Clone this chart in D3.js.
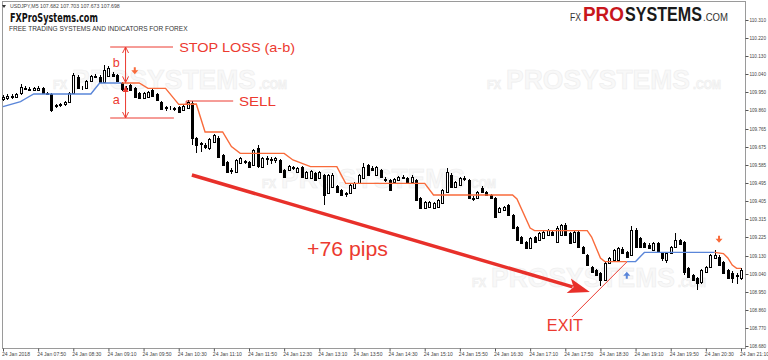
<!DOCTYPE html>
<html>
<head>
<meta charset="utf-8">
<script src="https://cdn.jsdelivr.net/npm/d3@7"></script>
<style>
  html, body { margin: 0; padding: 0; background: #fff; overflow: hidden; }
  svg { display: block; }
</style>
</head>
<body>
<svg id="chart" width="768" height="360"></svg>
<script>
// USDJPY M5, 24 Jan 2018 07:10 .. 21:10 -- [open, high, low, close]
const candles = [
  [109.915,109.935,109.905,109.925],[109.920,109.940,109.910,109.930],[109.925,109.940,109.915,109.930],
  [109.925,109.945,109.920,109.940],[109.945,109.990,109.935,109.975],[109.970,109.980,109.960,109.965],
  [109.965,109.975,109.955,109.960],[109.960,109.975,109.955,109.970],[109.962,109.978,109.955,109.972],
  [109.970,109.975,109.940,109.945],[109.945,109.950,109.935,109.942],[109.940,109.945,109.850,109.860],
  [109.880,109.890,109.870,109.885],[109.885,109.895,109.875,109.890],[109.890,109.905,109.880,109.900],
  [109.900,109.950,109.895,109.945],[109.945,110.045,109.940,110.035],[110.025,110.035,109.965,109.970],
  [109.972,109.980,109.960,109.968],[109.970,110.010,109.965,110.005],[110.005,110.035,110.000,110.030],
  [110.030,110.040,110.020,110.025],[110.025,110.035,109.995,110.000],[110.000,110.085,109.995,110.060],
  [110.030,110.080,110.025,110.070],[110.040,110.050,110.025,110.030],[110.035,110.040,110.000,110.005],
  [109.995,110.000,109.955,109.965],[109.965,109.980,109.955,109.970],[109.985,109.990,109.955,109.960],
  [109.970,109.975,109.920,109.925],[109.945,109.950,109.915,109.920],[109.920,109.950,109.915,109.945],
  [109.925,109.955,109.920,109.950],[109.960,109.965,109.925,109.930],[109.940,109.945,109.905,109.910],
  [109.900,109.905,109.860,109.865],[109.870,109.880,109.855,109.875],[109.872,109.880,109.860,109.868],
  [109.865,109.875,109.855,109.870],[109.875,109.880,109.845,109.850],[109.860,109.885,109.855,109.880],
  [109.870,109.910,109.865,109.900],[109.895,109.905,109.685,109.720],[109.720,109.725,109.645,109.685],
  [109.690,109.700,109.650,109.695],[109.685,109.695,109.665,109.675],[109.670,109.720,109.660,109.715],
  [109.700,109.740,109.695,109.735],[109.720,109.730,109.620,109.625],[109.635,109.640,109.580,109.585],
  [109.600,109.605,109.545,109.550],[109.560,109.570,109.540,109.555],[109.550,109.615,109.545,109.610],
  [109.595,109.625,109.590,109.620],[109.600,109.610,109.590,109.605],[109.600,109.605,109.570,109.575],
  [109.585,109.665,109.580,109.660],[109.670,109.685,109.570,109.580],[109.575,109.625,109.570,109.620],
  [109.620,109.630,109.585,109.615],[109.615,109.625,109.590,109.610],[109.610,109.625,109.595,109.618],
  [109.610,109.615,109.545,109.550],[109.560,109.565,109.520,109.525],[109.560,109.585,109.555,109.580],
  [109.570,109.580,109.560,109.575],[109.550,109.575,109.545,109.570],[109.575,109.580,109.520,109.525],
  [109.520,109.555,109.515,109.550],[109.520,109.560,109.515,109.555],[109.545,109.550,109.505,109.510],
  [109.520,109.555,109.515,109.550],[109.535,109.540,109.385,109.435],[109.445,109.540,109.440,109.535],
  [109.475,109.545,109.470,109.535],[109.480,109.485,109.445,109.450],[109.460,109.465,109.430,109.435],
  [109.440,109.450,109.425,109.445],[109.445,109.490,109.440,109.485],[109.470,109.500,109.465,109.495],
  [109.495,109.540,109.490,109.535],[109.520,109.595,109.515,109.575],[109.585,109.590,109.530,109.535],
  [109.570,109.580,109.555,109.560],[109.535,109.580,109.530,109.575],[109.560,109.565,109.520,109.525],
  [109.515,109.525,109.500,109.510],[109.510,109.515,109.455,109.460],[109.500,109.520,109.495,109.515],
  [109.510,109.530,109.505,109.525],[109.522,109.535,109.515,109.525],[109.520,109.525,109.490,109.495],
  [109.500,109.535,109.495,109.525],[109.510,109.515,109.405,109.410],[109.420,109.425,109.365,109.370],
  [109.370,109.405,109.365,109.400],[109.375,109.405,109.370,109.400],[109.370,109.400,109.365,109.395],
  [109.375,109.415,109.370,109.410],[109.395,109.465,109.390,109.460],[109.450,109.570,109.445,109.550],
  [109.535,109.545,109.470,109.475],[109.475,109.505,109.470,109.500],[109.485,109.525,109.480,109.520],
  [109.518,109.530,109.505,109.515],[109.510,109.515,109.415,109.420],[109.420,109.430,109.405,109.415],
  [109.420,109.455,109.415,109.450],[109.470,109.478,109.445,109.450],[109.450,109.455,109.430,109.435],
  [109.435,109.440,109.415,109.420],[109.420,109.425,109.320,109.325],[109.350,109.375,109.345,109.370],
  [109.360,109.380,109.355,109.375],[109.385,109.390,109.330,109.335],[109.335,109.340,109.265,109.270],
  [109.275,109.280,109.205,109.210],[109.225,109.230,109.190,109.195],[109.200,109.205,109.165,109.170],
  [109.170,109.225,109.165,109.220],[109.225,109.230,109.195,109.200],[109.210,109.250,109.205,109.245],
  [109.220,109.255,109.215,109.250],[109.235,109.265,109.230,109.260],[109.250,109.260,109.230,109.235],
  [109.200,109.280,109.195,109.270],[109.235,109.290,109.230,109.285],[109.285,109.295,109.230,109.235],
  [109.245,109.250,109.190,109.195],[109.200,109.260,109.195,109.250],[109.250,109.255,109.170,109.175],
  [109.175,109.180,109.140,109.145],[109.135,109.140,109.080,109.085],[109.075,109.080,109.045,109.050],
  [109.060,109.065,109.030,109.035],[109.045,109.050,108.980,109.010],[109.010,109.100,109.005,109.095],
  [109.095,109.125,109.090,109.120],[109.110,109.165,109.105,109.160],[109.110,109.175,109.100,109.170],
  [109.165,109.175,109.140,109.145],[109.150,109.155,109.120,109.125],[109.135,109.280,109.130,109.260],
  [109.260,109.270,109.170,109.175],[109.220,109.225,109.170,109.175],[109.195,109.200,109.170,109.175],
  [109.185,109.195,109.165,109.170],[109.160,109.200,109.155,109.195],[109.195,109.200,109.145,109.150],
  [109.145,109.150,109.105,109.120],[109.110,109.150,109.095,109.145],[109.145,109.180,109.140,109.175],
  [109.175,109.245,109.170,109.210],[109.210,109.215,109.185,109.190],[109.200,109.205,109.035,109.050],
  [109.070,109.075,109.020,109.025],[109.035,109.040,109.005,109.010],[109.020,109.025,108.960,108.995],
  [109.000,109.065,108.990,109.060],[109.050,109.080,109.045,109.075],[109.075,109.140,109.070,109.135],
  [109.120,109.160,109.115,109.135],[109.125,109.135,109.080,109.085],[109.100,109.105,109.040,109.045],
  [109.060,109.065,109.015,109.020],[109.045,109.055,108.995,109.020],[109.030,109.045,108.990,109.035],
  [109.020,109.070,109.010,109.060]
];

// trailing stop line, [bar, price] knots
const stopUpA = [[0,109.877],[4,109.902],[5,109.915],[7,109.940],[20,109.940],[22,109.995],[27,109.995]];
const stopDownA = [[27,109.995],[31,109.995],[33,109.968],[37,109.968],[40,109.888],[44,109.890],[46,109.750],
  [50,109.750],[52,109.677],[54,109.643],[64,109.643],[66,109.610],[70,109.577],[76,109.577],[78,109.493],
  [96,109.493],[98,109.435],[116,109.435],[117,109.415],[120,109.270],[121,109.257],[133,109.257],
  [134,109.225],[136,109.120],[137,109.102],[142,109.102]];
const stopUpB = [[142,109.102],[144,109.102],[146,109.148],[162,109.148]];
const stopDownB = [[162,109.148],[164,109.142],[165,109.120],[166,109.085],[167,109.068],[168,109.068]];

// signal arrows [bar, price of tip]
const sellSignals = [[30,110.039],[163,109.196]];
const buySignals = [[142,109.051]];

const priceTicks = [110.310,110.220,110.130,110.040,109.950,109.860,109.765,109.675,109.585,109.495,
  109.405,109.315,109.225,109.130,109.040,108.950,108.860,108.770,108.680];
const timeLabels = ["24 Jan 2018","24 Jan 07:50","24 Jan 08:30","24 Jan 09:10","24 Jan 09:50","24 Jan 10:30",
  "24 Jan 11:10","24 Jan 11:50","24 Jan 12:30","24 Jan 13:10","24 Jan 13:50","24 Jan 14:30","24 Jan 15:10",
  "24 Jan 15:50","24 Jan 16:30","24 Jan 17:10","24 Jan 17:50","24 Jan 18:30","24 Jan 19:10","24 Jan 19:50",
  "24 Jan 20:30","24 Jan 21:10"];
const barsPerLabel = 8;

const svg = d3.select("#chart");
const x = d3.scaleLinear().domain([0, 168]).range([3, 741]);
const y = d3.scaleLinear().domain([108.680, 110.310]).range([346, 20]);
const RED = "#ec3a30";
const FONT = "'Liberation Sans', Arial, sans-serif";

// squeeze a text horizontally to a given width
function fit(sel, len) {
  const w = sel.node().getComputedTextLength();
  const x0 = +sel.attr("x"), y0 = +sel.attr("y");
  sel.attr("x", 0).attr("y", 0)
    .attr("transform", `translate(${x0},${y0}) scale(${len / w},1)`);
  return sel;
}

// watermarks
const marks = [[53, 89], [487, 89], [262, 188], [472, 287]];
marks.forEach(([mx, my]) => {
  const g = svg.append("g").attr("fill", "#f8f8f8").attr("stroke", "#ededed").attr("stroke-width", 0.6)
    .style("font-family", FONT).style("font-weight", "bold");
  fit(g.append("text").attr("x", mx).attr("y", my).style("font-size", "12px").text("FX"), 14);
  fit(g.append("text").attr("x", mx + 19).attr("y", my).style("font-size", "28px").text("PROSYSTEMS"), 184);
  fit(g.append("text").attr("x", mx + 206).attr("y", my).style("font-size", "12px").text(".COM"), 28);
});

// frame
svg.append("rect").attr("x", 2.5).attr("y", 1.5).attr("width", 743).attr("height", 347)
  .attr("fill", "none").attr("stroke", "#9a9a9a");

// axes
const yAxis = d3.axisRight(y).tickValues(priceTicks).tickSize(3).tickPadding(1)
  .tickFormat(d3.format(".3f"));
const gy = svg.append("g").attr("transform", "translate(745.5,0)").call(yAxis);
gy.select(".domain").remove();
gy.selectAll("line").attr("stroke", "#555");
gy.selectAll("text").style("font-family", FONT).style("font-size", "5px").attr("fill", "#444")
  .attr("textLength", 16.5).attr("lengthAdjust", "spacingAndGlyphs");

const xAxis = d3.axisBottom(x).tickValues(timeLabels.map((d, i) => i * barsPerLabel))
  .tickSize(3).tickPadding(1).tickFormat((d, i) => timeLabels[i]);
const gx = svg.append("g").attr("transform", "translate(0,348.5)").call(xAxis);
gx.select(".domain").remove();
gx.selectAll("line").attr("stroke", "#555");
gx.selectAll("text").style("font-family", FONT).style("font-size", "5.5px").attr("fill", "#444")
  .attr("text-anchor", "start").attr("dx", -1.5)
  .attr("textLength", (d, i) => i === 0 ? 28 : 29).attr("lengthAdjust", "spacingAndGlyphs");

// candles
const cg = svg.append("g").attr("shape-rendering", "crispEdges");
candles.forEach(([o, h, l, c], i) => {
  const cx = Math.round(x(i));
  const up = c >= o;
  cg.append("line").attr("x1", cx + 0.5).attr("x2", cx + 0.5)
    .attr("y1", Math.round(y(h))).attr("y2", Math.round(y(l)))
    .attr("stroke", "#000");
  const top = Math.round(y(Math.max(o, c))), bot = Math.round(y(Math.min(o, c)));
  cg.append("rect").attr("x", cx - 0.5).attr("y", top + 0.5)
    .attr("width", 2).attr("height", Math.max(0, bot - top))
    .attr("fill", up ? "#fff" : "#000").attr("stroke", "#000");
});

// stop line
const line = d3.line().x(d => x(d[0])).y(d => y(d[1]));
[stopUpA, stopUpB].forEach(s => svg.append("path").attr("d", line(s))
  .attr("fill", "none").attr("stroke", "#5a86d9").attr("stroke-width", 1.4));
[stopDownA, stopDownB].forEach(s => svg.append("path").attr("d", line(s))
  .attr("fill", "none").attr("stroke", "#f96b3b").attr("stroke-width", 1.4));

// signal arrows
sellSignals.forEach(([b, p]) => {
  const ax = x(b), ay = y(p);
  svg.append("path").attr("fill", "#f96b3b")
    .attr("d", `M${ax},${ay} L${ax - 3.5},${ay - 4} L${ax - 1},${ay - 4} L${ax - 1},${ay - 7} L${ax + 1},${ay - 7} L${ax + 1},${ay - 4} L${ax + 3.5},${ay - 4}Z`);
});
buySignals.forEach(([b, p]) => {
  const ax = x(b), ay = y(p);
  svg.append("path").attr("fill", "#5a86d9")
    .attr("d", `M${ax},${ay} L${ax - 3.5},${ay + 4} L${ax - 1},${ay + 4} L${ax - 1},${ay + 7} L${ax + 1},${ay + 7} L${ax + 1},${ay + 4} L${ax + 3.5},${ay + 4}Z`);
});

// annotations
const ann = svg.append("g").attr("stroke", RED).attr("fill", "none").attr("stroke-width", 1);
ann.append("line").attr("x1", x(24.4)).attr("x2", x(38.7)).attr("y1", y(110.175)).attr("y2", y(110.175));
ann.append("line").attr("x1", x(24.4)).attr("x2", x(38.9)).attr("y1", y(109.820)).attr("y2", y(109.820));
ann.append("line").attr("x1", x(41.7)).attr("x2", x(52.4)).attr("y1", y(109.905)).attr("y2", y(109.905));
ann.append("line").attr("x1", x(41.7)).attr("x2", x(41.7)).attr("y1", y(109.905)).attr("y2", y(109.890));
const ax0 = x(27.9);
ann.append("line").attr("x1", ax0).attr("x2", ax0).attr("y1", y(110.175)).attr("y2", y(109.998));
ann.append("line").attr("x1", ax0).attr("x2", ax0).attr("y1", y(109.980)).attr("y2", y(109.820));
const vHead = (yy, dir) => `M${ax0 - 3},${yy + dir * 6} L${ax0},${yy} L${ax0 + 3},${yy + dir * 6}`;
ann.append("path").attr("d", vHead(y(110.175), 1));
ann.append("path").attr("d", vHead(y(109.998), -1));
ann.append("path").attr("d", vHead(y(109.820), -1));
svg.append("path").attr("fill", RED)
  .attr("d", `M${ax0},${y(109.980)} L${ax0 - 3},${y(109.980) + 6} L${ax0 + 3},${y(109.980) + 6}Z`);
// exit leader
ann.append("line").attr("x1", x(129.5)).attr("y1", y(108.825)).attr("x2", x(142)).attr("y2", y(109.100));

// big trend arrow
const p0 = [x(43), y(109.535)], p1 = [x(133.6), y(108.950)];
const ang = Math.atan2(p1[1] - p0[1], p1[0] - p0[0]);
const hl = 22, hw = 7.5;
const base = [p1[0] - hl * Math.cos(ang), p1[1] - hl * Math.sin(ang)];
svg.append("line").attr("x1", p0[0]).attr("y1", p0[1])
  .attr("x2", base[0] + 4 * Math.cos(ang)).attr("y2", base[1] + 4 * Math.sin(ang))
  .attr("stroke", "#e8302a").attr("stroke-width", 3.5);
svg.append("path").attr("fill", "#e8302a").attr("d",
  `M${p1[0]},${p1[1]} L${base[0] + hw * Math.sin(ang)},${base[1] - hw * Math.cos(ang)} ` +
  `L${base[0] + 5 * Math.cos(ang)},${base[1] + 5 * Math.sin(ang)} ` +
  `L${base[0] - hw * Math.sin(ang)},${base[1] + hw * Math.cos(ang)}Z`);

const label = (b, p, txt, size, len) => fit(svg.append("text").attr("x", x(b)).attr("y", y(p))
  .attr("fill", RED).style("font-family", FONT).style("font-size", size + "px").text(txt), len);
label(40.1, 110.150, "STOP LOSS (a-b)", 13, 116);
label(53.7, 109.881, "SELL", 13, 37);
label(25.0, 110.077, "b", 13, 7);
label(25.0, 109.890, "a", 13, 7);
label(69.2, 109.130, "+76 pips", 20, 81);
label(123.8, 108.755, "EXIT", 17, 36);

// header
svg.append("path").attr("d", "M2,5 L6,5 L4,8Z").attr("fill", "#333");
fit(svg.append("text").attr("x", 10).attr("y", 8).attr("fill", "#444")
  .style("font-family", FONT).style("font-size", "6px")
  .text("USDJPY,M5  107.682 107.703 107.673 107.698"), 110);
fit(svg.append("text").attr("x", 10).attr("y", 22).attr("fill", "#111")
  .style("font-family", "'DejaVu Sans Condensed', 'DejaVu Sans', sans-serif").style("font-weight", "bold")
  .style("font-size", "12.5px").text("FXProSystems.com"), 88);
fit(svg.append("text").attr("x", 9).attr("y", 30.5).attr("fill", "#333")
  .style("font-family", FONT).style("font-size", "7px")
  .text("FREE TRADING SYSTEMS AND INDICATORS FOR FOREX"), 179);

const logo = (lx, txt, size, len, fill, bold) => fit(svg.append("text").attr("x", lx).attr("y", 21)
  .attr("fill", fill).style("font-family", FONT).style("font-size", size + "px")
  .style("font-weight", bold ? "bold" : "normal").text(txt), len);
logo(570, "FX", 10, 11, "#333", false);
logo(583, "PRO", 19.5, 41, "#c8161d", true);
logo(625, "SYSTEMS", 19.5, 77, "#1a1a1a", true);
logo(703, ".COM", 10, 25, "#333", false);
</script>
</body>
</html>
